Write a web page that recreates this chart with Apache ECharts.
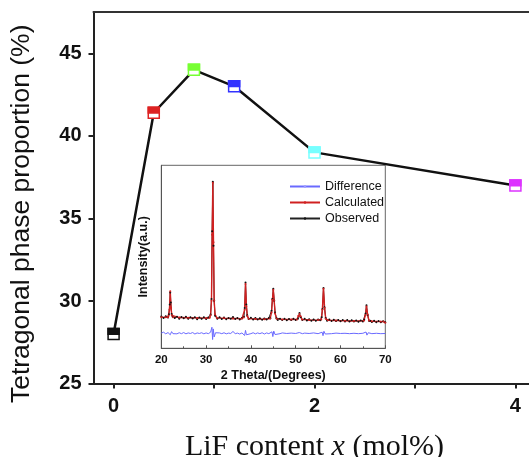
<!DOCTYPE html>
<html>
<head>
<meta charset="utf-8">
<script src="https://cdn.jsdelivr.net/npm/echarts@6/dist/echarts.min.js"></script>
<style>
  html, body { margin: 0; padding: 0; background: #fff; }
  #main { width: 529px; height: 457px; }
</style>
</head>
<body>
<div id="main"></div>
<script>
// main data: LiF content vs tetragonal phase proportion
var lifContent = [0, 0.4, 0.8, 1.2, 2, 4];
var tetraPhase = [28.0, 41.4, 44.0, 43.0, 39.0, 37.0];
var markerColors = ['#111111', '#dd2222', '#77ff33', '#3333ff', '#77ffff', '#dd33ff'];
var xLabels = [0, 2, 4];
var yLabels = [25, 30, 35, 40, 45];

// inset: XRD refinement (2 theta, intensity in arbitrary units)
var calculated = [[20,17.0],[21,16.9],[21.5,17.0],[21.65,17.8],[21.82,21],[22.0,31.2],[22.18,22],[22.35,18],[22.6,17.0],[24,16.8],[26,16.7],[28,16.6],[30,16.5],[30.8,16.7],[31.0,18],[31.2,26],[31.35,62],[31.5,90.5],[31.65,58],[31.8,26],[32.0,18.5],[32.4,16.6],[34,16.4],[36,16.3],[38,16.2],[38.4,16.8],[38.6,21],[38.8,35.2],[39.0,23],[39.2,17.6],[39.5,16.2],[41,16.0],[43,15.9],[44.3,16.3],[44.6,19.5],[44.8,26.5],[45.0,32],[45.2,26],[45.4,19],[45.75,16.1],[47,15.8],[49,15.7],[50.3,15.8],[50.6,17.8],[50.85,18.8],[51.1,17.5],[51.4,15.8],[53,15.5],[55,15.4],[55.7,15.8],[55.95,21],[56.2,32.6],[56.45,22],[56.7,16.2],[57.2,15.3],[59,15.2],[61,15.0],[63,14.9],[65.2,15.0],[65.55,18],[65.8,22.8],[66.05,18.5],[66.35,15.2],[67,14.8],[69,14.6],[69.6,14.6],[70,14.0]];
var observed = [[20,17.4],[20.5,16.6],[21,17.5],[21.5,16.8],[21.7,18.6],[21.88,24],[22.0,30.5],[22.12,25],[22.3,18.8],[22.5,17.4],[23,16.5],[23.5,17.3],[24,16.2],[24.5,17.1],[25,16.4],[25.5,17.2],[26,16.1],[26.5,16.9],[27,16.3],[27.5,17.0],[28,15.9],[28.5,16.8],[29,16.1],[29.5,16.9],[30,16.0],[30.5,16.8],[31.0,18.5],[31.2,27],[31.35,64],[31.5,91],[31.65,56],[31.8,26],[32.0,17.8],[32.5,16.1],[33,16.9],[33.5,16.0],[34,16.8],[34.5,15.9],[35,16.6],[35.5,16.2],[36,17.1],[36.5,16.0],[37,16.6],[37.5,15.8],[38,16.5],[38.45,17.2],[38.62,22],[38.8,36],[38.98,24],[39.18,18],[39.5,16.0],[40,16.7],[40.5,15.7],[41,16.5],[41.5,15.8],[42,16.4],[42.5,15.6],[43,16.3],[43.5,15.7],[44,16.5],[44.35,16.4],[44.6,20.5],[44.8,27],[45.0,32.5],[45.2,26],[45.4,19.5],[45.7,16.4],[46,15.5],[46.5,16.2],[47,15.4],[47.5,16.1],[48,15.3],[48.5,16.0],[49,15.5],[49.5,16.1],[50,15.4],[50.5,16.2],[50.85,19.3],[51.1,17],[51.5,15.5],[52,16.1],[52.5,15.2],[53,15.9],[53.5,15.1],[54,15.8],[54.5,15.0],[55,15.8],[55.5,15.3],[55.8,17],[55.98,21.5],[56.2,33],[56.42,22.5],[56.7,16.6],[57,15.1],[57.5,15.7],[58,14.9],[58.5,15.6],[59,14.9],[59.5,15.5],[60,14.8],[60.5,15.4],[61,14.7],[61.5,15.4],[62,14.6],[62.5,15.3],[63,14.6],[63.5,15.2],[64,14.5],[64.5,15.2],[65,14.7],[65.3,15.6],[65.6,19],[65.8,23.5],[66.05,18.2],[66.35,15.0],[66.6,15.1],[67,14.4],[67.5,15.0],[68,14.3],[68.5,14.9],[69,14.3],[69.5,14.8],[70,14.3]];
var difference = [[20,8.3],[20.5,8.8],[21,7.9],[21.5,8.6],[22,7.4],[22.3,9.1],[22.6,8.0],[23,8.7],[23.5,7.9],[24,8.5],[24.5,8.0],[25,8.6],[25.5,7.9],[26,8.4],[26.5,8.1],[27,8.6],[27.5,7.8],[28,8.4],[28.5,8.1],[29,8.5],[29.5,7.9],[30,8.4],[30.5,8.0],[31,8.8],[31.3,11.5],[31.45,4.8],[31.6,10.6],[31.8,6.2],[32.1,8.5],[32.5,7.9],[33,8.4],[33.5,8.0],[34,8.5],[34.5,7.9],[35,8.3],[35.5,8.1],[36,9.2],[36.5,8.0],[37,8.3],[37.5,7.8],[38,8.4],[38.6,7.0],[38.8,9.8],[39.0,7.4],[39.4,8.3],[40,8.0],[40.5,8.5],[41,7.9],[41.5,8.4],[42,8.0],[42.5,8.5],[43,7.8],[43.5,8.4],[44,8.0],[44.7,9.0],[44.9,6.4],[45.1,9.4],[45.4,7.5],[45.8,8.2],[46.5,8.0],[47,8.4],[48,8.1],[49,8.3],[50,8.1],[50.8,8.6],[51.5,8.0],[52,8.3],[53,8.1],[54,8.4],[55,8.0],[55.9,8.8],[56.1,6.9],[56.3,9.3],[56.6,7.8],[57,8.2],[58,8.0],[59,8.3],[60,8.1],[61,8.2],[62,8.0],[63,8.2],[64,8.0],[65,8.2],[65.7,8.9],[65.9,7.2],[66.2,8.5],[67,8.0],[68,8.2],[69,8.0],[70,8.1]];

var chart = echarts.init(document.getElementById('main'));

var mainPoints = lifContent.map(function (x, i) { return [x, tetraPhase[i]]; });

var option = {
  backgroundColor: '#fff',
  animation: false,
  textStyle: { fontFamily: 'Liberation Sans' },
  legend: {
    data: ['Difference', 'Calculated', 'Observed'],
    orient: 'vertical',
    left: 284,
    top: 175,
    itemWidth: 30,
    itemHeight: 3,
    itemGap: 3,
    textStyle: { fontSize: 12.5, color: '#111', fontFamily: 'Liberation Sans' }
  },
  grid: [
    { left: 93.5, top: 12, right: -6.5, bottom: 73.4, outerBoundsMode: 'none', containLabel: false },
    { left: 161.3, top: 165.3, width: 224, height: 183, outerBoundsMode: 'none', containLabel: false,
      show: true, borderColor: '#666', borderWidth: 1, backgroundColor: 'transparent' }
  ],
  xAxis: [
    {
      type: 'value', gridIndex: 0, min: -0.2, max: 4.2,
      name: '{a|LiF content }{b|x}{a| (mol%)}',
      nameLocation: 'middle', nameGap: 49,
      nameTextStyle: {
        rich: {
          a: { fontFamily: 'Liberation Serif', fontSize: 30, color: '#111' },
          b: { fontFamily: 'Liberation Serif', fontSize: 30, fontStyle: 'italic', color: '#111' }
        }
      },
      axisLine: { onZero: false, lineStyle: { color: '#222', width: 2 } },
      axisTick: { customValues: [0, 1, 2, 3, 4], length: 5, lineStyle: { color: '#222', width: 2 } },
      axisLabel: { customValues: xLabels, fontSize: 20, fontWeight: 'bold', color: '#111', margin: 13 },
      splitLine: { show: false }
    },
    {
      type: 'value', gridIndex: 0, min: -0.2, max: 4.2, position: 'top',
      axisLine: { onZero: false, lineStyle: { color: '#333', width: 2 } },
      axisTick: { show: false }, axisLabel: { show: false }, splitLine: { show: false }
    },
    {
      type: 'value', gridIndex: 1, min: 20, max: 70, interval: 10,
      name: '2 Theta/(Degrees)', nameLocation: 'middle', nameGap: 21,
      nameTextStyle: { fontSize: 12.5, fontWeight: 'bold', color: '#111' },
      axisLine: { onZero: false, lineStyle: { color: '#555', width: 1 } },
      axisTick: { inside: true, length: 3, lineStyle: { color: '#555' } },
      minorTick: { show: true, splitNumber: 2, length: 2, lineStyle: { color: '#555' } },
      axisLabel: { fontSize: 11.5, fontWeight: 'bold', color: '#111', margin: 6 },
      splitLine: { show: false }
    }
  ],
  yAxis: [
    {
      type: 'value', gridIndex: 0, min: 25, max: 47.5,
      name: 'Tetragonal phase proportion (%)', nameLocation: 'middle', nameGap: 58,
      nameTextStyle: { fontSize: 26.5, color: '#111', padding: [0, 32, 0, 0] },
      axisLine: { onZero: false, lineStyle: { color: '#222', width: 2 } },
      axisTick: { customValues: yLabels, length: 5, lineStyle: { color: '#222', width: 2 } },
      axisLabel: { customValues: yLabels, fontSize: 20, fontWeight: 'bold', color: '#111', margin: 12 },
      splitLine: { show: false }
    },
    {
      type: 'value', gridIndex: 0, min: 25, max: 47.5,
      axisLine: { show: false, onZero: false },
      axisTick: { customValues: [27.5, 32.5, 37.5, 42.5], length: 3, lineStyle: { color: '#222', width: 1.5 } },
      axisLabel: { show: false }, splitLine: { show: false }
    },
    {
      type: 'value', gridIndex: 1, min: 0, max: 100,
      name: 'Intensity(a.u.)', nameLocation: 'middle', nameGap: 11,
      nameTextStyle: { fontSize: 12.5, fontWeight: 'bold', color: '#111' },
      axisLine: { onZero: false, lineStyle: { color: '#555', width: 1 } },
      axisTick: { show: false }, axisLabel: { show: false }, splitLine: { show: false }
    }
  ],
  series: [
    {
      name: 'Difference', type: 'line', xAxisIndex: 2, yAxisIndex: 2,
      data: difference, showSymbol: false, symbol: 'none',
      lineStyle: { color: '#6a6aff', width: 1 }, itemStyle: { color: '#9a9aff' }
    },
    {
      name: 'Observed', type: 'line', xAxisIndex: 2, yAxisIndex: 2,
      data: observed, symbol: 'circle', symbolSize: 2,
      lineStyle: { color: '#222', width: 1 }, itemStyle: { color: '#111' }
    },
    {
      name: 'Calculated', type: 'line', xAxisIndex: 2, yAxisIndex: 2,
      data: calculated, symbol: 'circle', symbolSize: 2,
      lineStyle: { color: '#d02020', width: 1.4 }, itemStyle: { color: '#d02020' }
    },
    {
      name: 'main', type: 'line', xAxisIndex: 0, yAxisIndex: 0,
      data: mainPoints, symbol: 'none', z: 5,
      lineStyle: { color: '#111', width: 2.5 }
    },
    {
      name: 'markers', type: 'custom', xAxisIndex: 0, yAxisIndex: 0, z: 6,
      data: mainPoints,
      renderItem: function (params, api) {
        var p = api.coord([api.value(0), api.value(1)]);
        var c = markerColors[params.dataIndex];
        var s = 11;
        return {
          type: 'group',
          children: [
            { type: 'rect', shape: { x: p[0] - s / 2, y: p[1] - s / 2, width: s, height: s },
              style: { fill: '#fff', stroke: c, lineWidth: 1.5 } },
            { type: 'rect', shape: { x: p[0] - s / 2, y: p[1] - s / 2, width: s, height: s * 0.52 },
              style: { fill: c, stroke: c, lineWidth: 1.5 } }
          ]
        };
      }
    }
  ]
};

chart.setOption(option);
</script>
</body>
</html>
